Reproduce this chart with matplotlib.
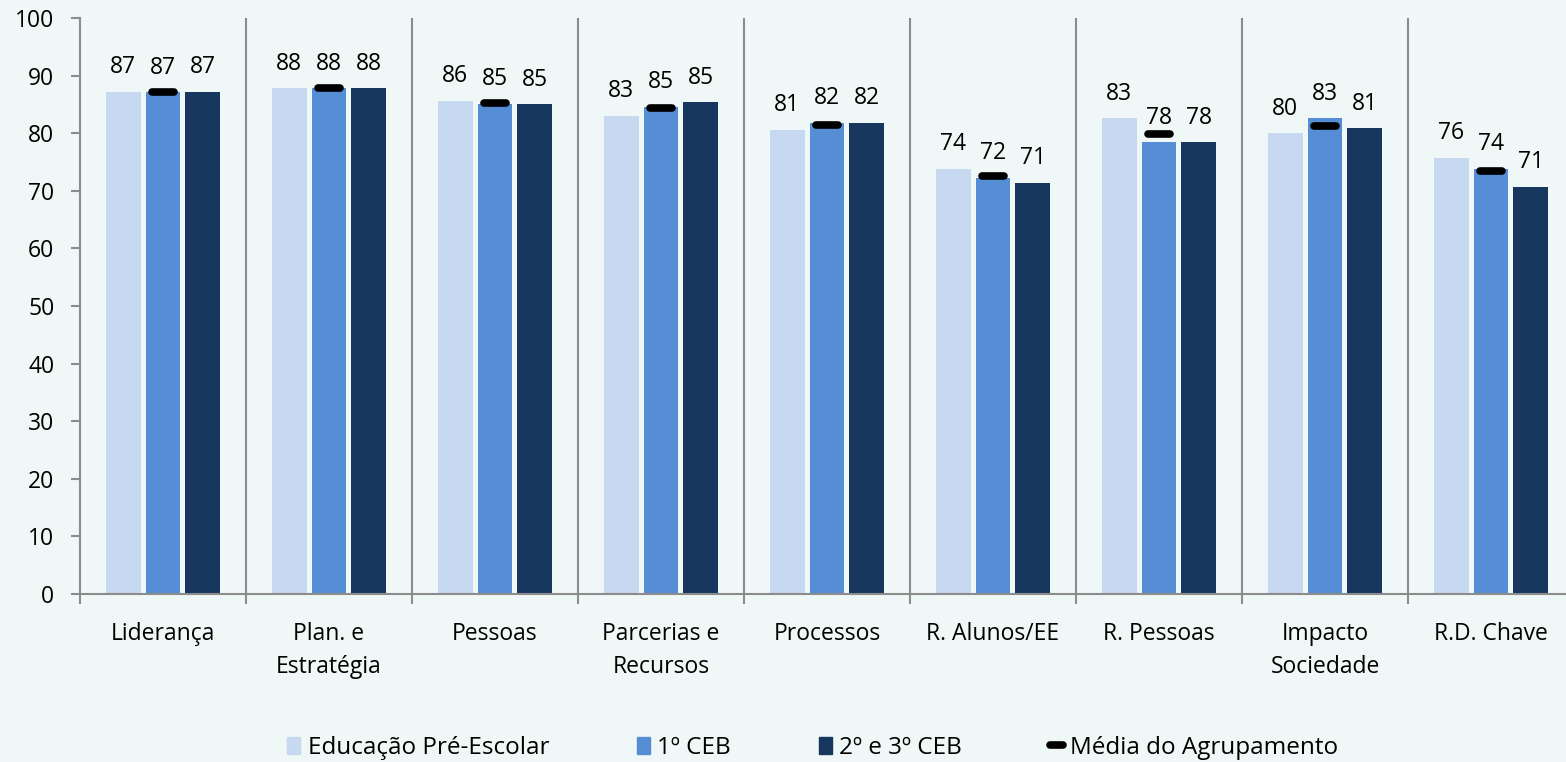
import matplotlib as mpl
mpl.use('Agg')

import matplotlib.pyplot as plt
import matplotlib.patches as mpatches
from matplotlib.lines import Line2D
import numpy as np

plt.rcParams['font.family'] = ['Open Sans', 'DejaVu Sans']

# colours
bg_color = "#EFF8F6"
grey_color = "#8C8C8C"
series_colors = ["#C6D9F1", "#558ED5", "#17375E"]

categories = ["Liderança", "Plan. e\nEstratégia", "Pessoas", "Parcerias e\nRecursos",
              "Processos", "R. Alunos/EE", "R. Pessoas", "Impacto\nSociedade", "R.D. Chave"]
series_names = ["Educação Pré-Escolar", "1º CEB", "2º e 3º CEB"]
pre_escolar = [87.2, 87.8, 85.6, 83.0, 80.6, 73.8, 82.6, 80.0, 75.7]
ceb1 = [87.1, 87.8, 85.1, 84.6, 81.8, 72.3, 78.4, 82.6, 73.8]
ceb23 = [87.2, 87.8, 85.0, 85.4, 81.8, 71.4, 78.4, 80.9, 70.7]
media = [87.1, 87.8, 85.2, 84.4, 81.4, 72.5, 79.8, 81.2, 73.5]
mean_name = "Média do Agrupamento"

fig = plt.figure(figsize=(15.66, 7.62), dpi=100)
fig.patch.set_facecolor(bg_color)
ax = fig.add_axes([80/1566, 1-594/762, 1494/1566, 576/762])
ax.set_facecolor(bg_color)

x = np.arange(len(categories))
width = 0.21
step = 0.24
for k, vals in enumerate([pre_escolar, ceb1, ceb23]):
  pos = x + (k-1)*step
  ax.bar(pos, vals, width=width, color=series_colors[k], zorder=2)
  for p, v in zip(pos, vals):
    ax.annotate("%d" % round(v), (p, v), xytext=(0, 9), textcoords='offset points',
                ha='center', va='bottom', fontsize=16.5)

# mean markers on the middle bar
ax.hlines(media, x - 0.065, x + 0.065, color='black', linewidth=5.5,
          capstyle='round', zorder=3)

# separators between categories
bounds = np.arange(len(categories)+1) - 0.5
ax.vlines(bounds[1:], 0, 100, color=grey_color, linewidth=1.5, zorder=1)

ax.set_xlim(-0.5, len(categories)-0.5)
ax.set_ylim(0, 100)
ax.set_yticks(range(0, 101, 10))
ax.set_xticks(x)
ax.set_xticklabels(categories, fontsize=16.5, linespacing=1.5)
ax.set_xticks(bounds, minor=True)
ax.tick_params(axis='x', which='major', length=0, pad=20)
ax.tick_params(axis='x', which='minor', length=7.5, width=1.5, color=grey_color, direction='out')
ax.tick_params(axis='y', labelsize=16.5, length=6.5, width=1.5, color=grey_color, pad=12)

for s in ['top', 'right']:
  ax.spines[s].set_visible(False)
for s in ['left', 'bottom']:
  ax.spines[s].set_color(grey_color)
  ax.spines[s].set_linewidth(1.5)

handles = [mpatches.Patch(color=c, label=n) for c, n in zip(series_colors, series_names)]
handles.append(Line2D([0], [0], color='black', linewidth=5.5, solid_capstyle='round', label=mean_name))
fig.legend(handles=handles, loc='center', bbox_to_anchor=(0.519, 1-748/762), ncol=4,
           frameon=False, fontsize=17.5, handlelength=0.55, handleheight=0.75,
           handletextpad=0.3, columnspacing=3.6)

plt.savefig("out.png", dpi=100, facecolor=bg_color)
plt.close()
